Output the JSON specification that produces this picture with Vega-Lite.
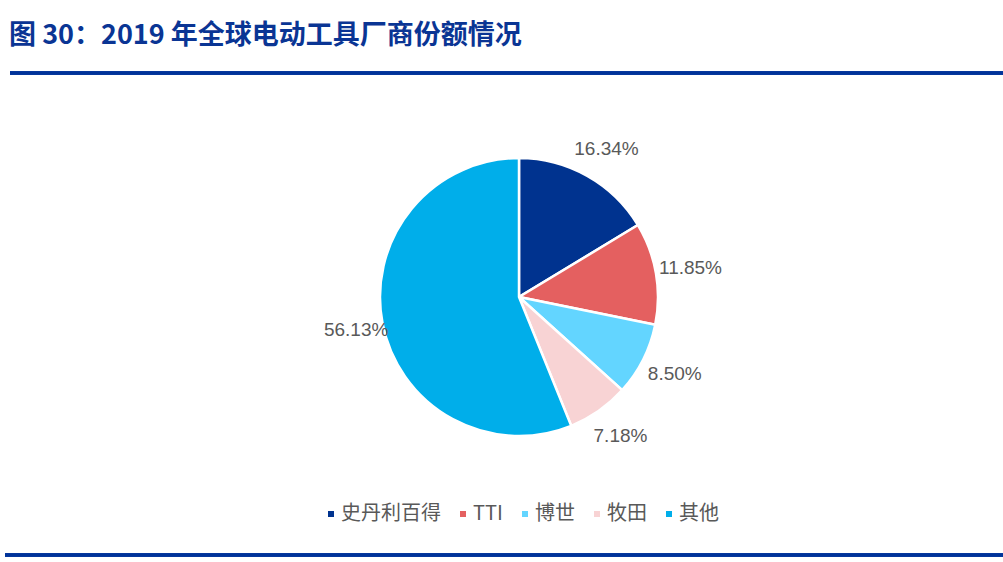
{
  "$schema": "https://vega.github.io/schema/vega-lite/v6.json",
  "width": 1003,
  "height": 562,
  "autosize": "none",
  "padding": 0,
  "background": "white",
  "title": {
    "text": "图 30：2019 年全球电动工具厂商份额情况",
    "orient": "top",
    "anchor": "start",
    "frame": "group",
    "offset": -50,
    "dx": 9,
    "font": "Noto Sans CJK SC",
    "fontSize": 27,
    "fontWeight": "bold",
    "color": "#0A3594"
  },
  "data": {
    "values": [
      {"rank": 1, "company": "史丹利百得", "share": 0.1634},
      {"rank": 2, "company": "TTI", "share": 0.1185},
      {"rank": 3, "company": "博世", "share": 0.0850},
      {"rank": 4, "company": "牧田", "share": 0.0718},
      {"rank": 5, "company": "其他", "share": 0.5613}
    ]
  },
  "config": {"view": {"stroke": null}},
  "layer": [
    {
      "mark": {"type": "rule", "color": "#003399", "strokeWidth": 3},
      "encoding": {"x": {"value": 10}, "x2": {"value": 1003}, "y": {"value": 73}}
    },
    {
      "mark": {"type": "rule", "color": "#003399", "strokeWidth": 3},
      "encoding": {"x": {"value": 5}, "x2": {"value": 1003}, "y": {"value": 555}}
    },
    {
      "mark": {"type": "arc", "x": 519, "y": 297, "outerRadius": 139, "stroke": "white", "strokeWidth": 2.5},
      "encoding": {
        "theta": {"field": "share", "type": "quantitative", "stack": true},
        "order": {"field": "rank", "type": "quantitative", "sort": "ascending"},
        "color": {
          "field": "company",
          "type": "nominal",
          "sort": ["史丹利百得", "TTI", "博世", "牧田", "其他"],
          "scale": {
            "domain": ["史丹利百得", "TTI", "博世", "牧田", "其他"],
            "range": ["#00338F", "#E46060", "#63D5FF", "#F8D3D4", "#00AEEA"]
          },
          "legend": {
            "title": null,
            "orient": "none",
            "legendX": 321,
            "legendY": 504,
            "direction": "horizontal",
            "symbolType": "square",
            "symbolSize": 36,
            "symbolStrokeWidth": 0,
            "labelFont": "Noto Sans CJK SC",
            "labelFontSize": 20,
            "labelColor": "#595959",
            "labelOffset": 0,
            "columnPadding": 12
          }
        }
      }
    },
    {
      "mark": {"type": "text", "x": 519, "y": 297, "radius": 170, "dx": 4, "font": "Liberation Sans", "fontSize": 19, "color": "#595959"},
      "encoding": {
        "theta": {"field": "share", "type": "quantitative", "stack": true},
        "order": {"field": "rank", "type": "quantitative", "sort": "ascending"},
        "text": {"field": "share", "type": "quantitative", "format": ".2%"}
      }
    }
  ]
}
